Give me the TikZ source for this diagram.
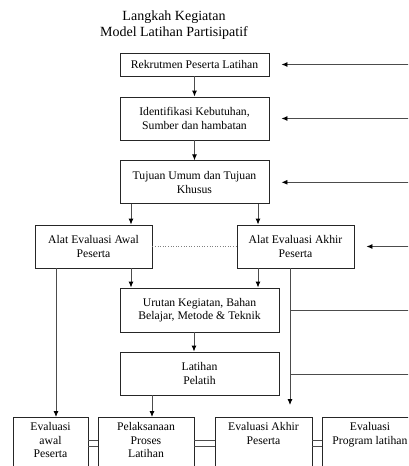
\documentclass[tikz,border=0pt]{standalone}
\usepackage{fontspec}
\setmainfont{Liberation Serif}
\usetikzlibrary{arrows.meta}
\begin{document}
\begin{tikzpicture}[x=1pt,y=-1pt,
  box/.style={draw=black!85, line width=0.9pt, inner sep=0pt, align=center,
    font=\fontsize{11.7}{13.5}\selectfont},
  botbox/.style={box, anchor=north, inner xsep=0pt, inner ysep=5pt, text depth=60pt},
  conn/.style={draw=black!70, line width=0.9pt},
  arr/.style={conn, -{Latex[length=6pt,width=5pt,color=black]}}]
\useasboundingbox (0,0) rectangle (408,466);
\clip (0,0) rectangle (408,466);
\node[font=\fontsize{14}{16}\selectfont, align=center] (title) at (174,25) {Langkah Kegiatan\\Model Latihan Partisipatif};
\node[box, minimum width=149pt, minimum height=23pt] (b1) at (194.5,64.5) {Rekrutmen Peserta Latihan};
\node[box, minimum width=149pt, minimum height=43pt] (b2) at (194.5,118.5) {Identifikasi Kebutuhan,\\Sumber dan hambatan};
\node[box, minimum width=149pt, minimum height=43pt] (b3) at (194.5,182.3) {Tujuan Umum dan Tujuan\\Khusus};
\node[box, minimum width=117pt, minimum height=43pt] (b4) at (93.5,246.5) {Alat Evaluasi Awal\\Peserta};
\node[box, minimum width=117pt, minimum height=43pt] (b5) at (295.5,246.5) {Alat Evaluasi Akhir\\Peserta};
\node[box, minimum width=159pt, minimum height=44pt] (b6) at (199.5,310) {Urutan Kegiatan, Bahan\\Belajar, Metode \& Teknik};
\node[box, minimum width=159pt, minimum height=43pt] (b7) at (199.5,373.5) {Latihan\\Pelatih};
\node[botbox, minimum width=75pt] (e1) at (50.5,417) {Evaluasi\\awal\\Peserta};
\node[botbox, minimum width=96pt] (e2) at (146,417) {Pelaksanaan\\Proses\\Latihan};
\node[botbox, minimum width=97pt] (e3) at (263.5,417) {Evaluasi Akhir\\Peserta};
\node[botbox, minimum width=96pt] (e4) at (370,417) {Evaluasi\\Program latihan};
% right-edge coordinates
\coordinate (r1) at (412,64.5);
\coordinate (r2) at (412,118.5);
\coordinate (r3) at (412,182.3);
\coordinate (r5) at (412,246.5);
\coordinate (r6) at (412,310);
\coordinate (r7) at (412,374);
\coordinate (j6) at (290,310);
\coordinate (j7) at (290,374);
\coordinate (a5) at (290,405);
% vertical arrows
\draw[arr] (b1) -- (b2);
\draw[arr] (b2) -- (b3);
\draw[arr] (131,0 |- b3.south) -- (131,0 |- b4.north);
\draw[arr] (258,0 |- b3.south) -- (258,0 |- b5.north);
\draw[arr] (131,0 |- b4.south) -- (131,0 |- b6.north);
\draw[arr] (258,0 |- b5.south) -- (258,0 |- b6.north);
\draw[arr] (56,0 |- b4.south) -- (56,0 |- e1.north);
\draw[arr] (290,0 |- b5.south) -- (a5);
\draw[arr] (194,0 |- b6.south) -- (194,0 |- b7.north);
\draw[arr] (152,0 |- b7.south) -- (152,0 |- e2.north);
% right arrows
\draw[arr] (r1) -- ([xshift=12pt]b1.east);
\draw[arr] (r2) -- ([xshift=12pt]b2.east);
\draw[arr] (r3) -- ([xshift=12pt]b3.east);
\draw[arr] (r5) -- ([xshift=12pt]b5.east);
\draw[conn] (r6) -- (j6);
\draw[conn] (r7) -- (j7);
% dotted link
\draw[draw=black!50, dotted, line width=0.6pt] (b4) -- (b5);
% double links between bottom boxes
\foreach \a/\b in {e1/e2, e2/e3, e3/e4}{
  \draw[conn] ([yshift=-23pt]\a.north east) -- ([yshift=-23pt]\b.north west);
  \draw[conn] ([yshift=-29pt]\a.north east) -- ([yshift=-29pt]\b.north west);
}
\end{tikzpicture}
\end{document}
